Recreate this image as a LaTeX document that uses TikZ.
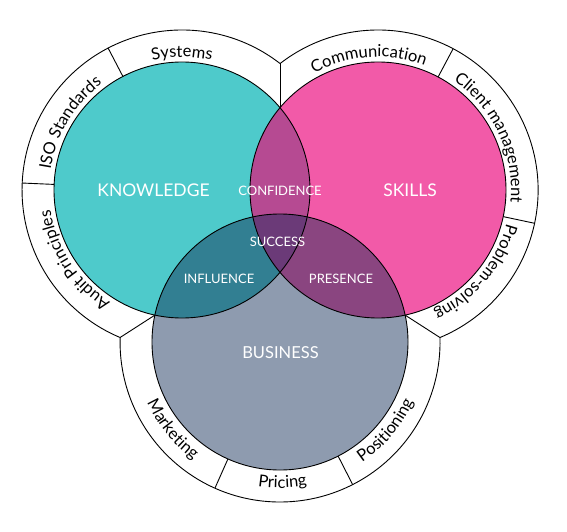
\documentclass[tikz,border=0pt]{standalone}
\usepackage{fontspec}
\setmainfont{Lato}
\usetikzlibrary{decorations.text}
\definecolor{kcol}{HTML}{4ECACB}
\definecolor{scol}{HTML}{F25AA8}
\definecolor{bcol}{HTML}{8E9BAF}
\definecolor{kscol}{HTML}{B64A92}
\definecolor{kbcol}{HTML}{327F92}
\definecolor{sbcol}{HTML}{8A4580}
\definecolor{allcol}{HTML}{6B3A78}
\newcommand\bandfont{\fontsize{16.5}{16.5}\selectfont}
\tikzset{
  ring/.style={draw=black, line width=0.9pt},
  smalllab/.style={text=white, font=\fontsize{13}{13}\selectfont, inner sep=0pt},
  biglab/.style={text=white, font=\fontsize{17.5}{17.5}\selectfont, inner sep=0pt},
  cwtext/.style={decorate, decoration={text along path, text align=center, text={|\bandfont|#1}}},
}
\begin{document}
\begin{tikzpicture}[x=1pt,y=1pt]
\useasboundingbox (0,0) rectangle (567,-532);
\coordinate (K) at (182,-190);
\coordinate (S) at (378,-190);
\coordinate (B) at (280,-342);
\coordinate (ksO) at (280,-63.5);
\coordinate (ksI) at (280,-107.7);
\coordinate (kbO) at (120.1,-337.5);
\coordinate (kbI) at (154.9,-315.1);
\coordinate (sbO) at (439.9,-337.5);
\coordinate (sbI) at (405.1,-315.1);
% outer band
\fill[white] (K) circle[radius=160] (S) circle[radius=160] (B) circle[radius=160];
\draw[ring] (ksO) arc[start angle=52.24,end angle=247.24,radius=160]
  arc[start angle=178.39,end angle=361.61,radius=160]
  arc[start angle=-67.24,end angle=127.76,radius=160] -- cycle;
\draw[ring] (ksO) -- (ksI);
\draw[ring] (kbO) -- (kbI);
\draw[ring] (sbO) -- (sbI);
% section dividers
\draw[ring] (K) ++(117.5:128) -- ++(117.5:32);
\draw[ring] (K) ++(177.5:128) -- ++(177.5:32);
\draw[ring] (S) ++(62:128) -- ++(62:32);
\draw[ring] (S) ++(-12:128) -- ++(-12:32);
\draw[ring] (B) ++(-114:128) -- ++(-114:32);
\draw[ring] (B) ++(-63:128) -- ++(-63:32);
% circles
\fill[kcol] (K) circle[radius=128];
\fill[scol] (S) circle[radius=128];
\fill[bcol] (B) circle[radius=128];
\begin{scope}\clip (K) circle[radius=128]; \fill[kscol] (S) circle[radius=128];\end{scope}
\begin{scope}\clip (K) circle[radius=128]; \fill[kbcol] (B) circle[radius=128];\end{scope}
\begin{scope}\clip (S) circle[radius=128]; \fill[sbcol] (B) circle[radius=128];\end{scope}
\begin{scope}\clip (K) circle[radius=128]; \clip (S) circle[radius=128]; \fill[allcol] (B) circle[radius=128];\end{scope}
\draw[ring] (K) circle[radius=128];
\draw[ring] (S) circle[radius=128];
\draw[ring] (B) circle[radius=128];
% band texts (clockwise, tops outward)
\path[cwtext=Systems] (K) ++(160:133) arc[start angle=160,end angle=20,radius=133];
\path[cwtext=ISO Standards] (K) ++(219:133) arc[start angle=219,end angle=79,radius=133];
\path[cwtext=Audit Principles] (K) ++(283:133) arc[start angle=283,end angle=143,radius=133];
\path[cwtext=Communication] (S) ++(164:133) arc[start angle=164,end angle=24,radius=133];
\path[cwtext=Client management] (S) ++(95:133) arc[start angle=95,end angle=-45,radius=133];
\path[cwtext=Problem-solving] (S) ++(30:133) arc[start angle=30,end angle=-110,radius=133];
% band texts (counterclockwise, tops inward)
\path[cwtext=Marketing] (B) ++(149:146) arc[start angle=149,end angle=289,radius=146];
\path[cwtext=Pricing] (B) ++(201:146) arc[start angle=201,end angle=341,radius=146];
\path[cwtext=Positioning] (B) ++(250:146) arc[start angle=250,end angle=390,radius=146];
% labels
\node[biglab] (knowledge) at (153.5,-190) {KNOWLEDGE};
\node[biglab] (skills) at (410,-190) {SKILLS};
\node[biglab, font=\fontsize{16.5}{16.5}\selectfont] (business) at (280.5,-352.5) {BUSINESS};
\node[smalllab] (confidence) at (280,-191) {CONFIDENCE};
\node[smalllab] (success) at (277.5,-241.7) {SUCCESS};
\node[smalllab] (influence) at (219,-279) {INFLUENCE};
\node[smalllab] (presence) at (341,-279) {PRESENCE};
\end{tikzpicture}
\end{document}
